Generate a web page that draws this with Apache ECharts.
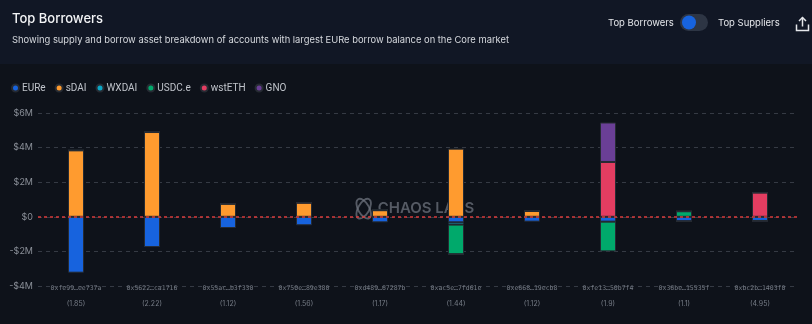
<!DOCTYPE html>
<html>
<head>
<meta charset="utf-8">
<script src="https://cdn.jsdelivr.net/npm/echarts@6/dist/echarts.min.js"></script>
<style>
html,body{margin:0;padding:0;background:#0e121a;}
#chart{width:812px;height:324px;}
</style>
</head>
<body>
<div id="chart"></div>
<script>
const categories = ['0xfe99…ee737a','0x5622…ca1716','0x55ac…b3f330','0x750e…89e380','0xd489…67287b','0xac5e…7fd61e','0xe668…19ecb8','0xfe13…50b7f4','0x36be…15535f','0xbc2b…1403f0'];
const healthFactors = ['1.85','2.22','1.12','1.56','1.17','1.44','1.12','1.9','1.1','4.95'];
const yTicks = ['-$4M','-$2M','$0','$2M','$4M','$6M'];
const EURe   = [-3.23,-1.75,-0.65,-0.49,-0.32,-0.32,-0.28,-0.28,-0.26,-0.24];
const sDAI   = [3.84,4.90,0.76,0.82,0.38,3.94,0.34,0,0,0];
const WXDAI  = [0,0,0,0,0,-0.13,0,0,0,0];
const USDCe  = [0,0,0,0,0,-1.72,0,-1.72,0.32,0];
const wstETH = [0,0,0,0,0,0,0,3.17,0,1.40];
const GNO    = [0,0,0,0,0,0,0,2.28,0,0];

const seriesDefs = [
  ['EURe', EURe, '#1763de'],
  ['sDAI', sDAI, '#ff9b2f'],
  ['WXDAI', WXDAI, '#0ba7c6'],
  ['USDC.e', USDCe, '#00a96b'],
  ['wstETH', wstETH, '#e33d61'],
  ['GNO', GNO, '#6a3f96']
];

const chart = echarts.init(document.getElementById('chart'), null, {renderer:'canvas'});
const series = seriesDefs.map((d, i) => ({
  name: d[0], type: 'bar', stack: 'total', barWidth: 16,
  data: d[1].map(v => v * 1e6),
  itemStyle: {color: d[2], borderColor: '#262b33', borderWidth: 1},
  z: 3,
  markLine: i === 0 ? {
    silent: true, symbol: 'none', label: {show: false},
    lineStyle: {color: '#d83b3b', type: [3,3], width: 1.5},
    data: [{yAxis: 0}]
  } : undefined
}));

const wm = 'rgba(110,115,125,0.75)';
chart.setOption({
  backgroundColor: '#0e121a',
  animation: false,
  textStyle: {fontFamily: 'Inter, Roboto, sans-serif'},
  graphic: [
    {type:'rect', shape:{x:0,y:0,width:812,height:64}, style:{fill:'#111725'}, z:-10, silent:true},
    {type:'text', left:12, top:13, style:{text:'Top Borrowers', fill:'#f3f4f6', font:'500 13px Inter, sans-serif'}},
    {type:'text', left:12, top:36, style:{text:'Showing supply and borrow asset breakdown of accounts with largest EURe borrow balance on the Core market', fill:'#d6d9de', font:'9.4px Inter, sans-serif'}},
    {type:'text', left:608, top:18, style:{text:'Top Borrowers', fill:'#e5e7eb', font:'9.5px Inter, sans-serif'}},
    {type:'rect', shape:{x:680,y:14,width:28,height:17,r:8.5}, style:{fill:'#2d3544'}},
    {type:'circle', shape:{cx:689,cy:22.5,r:7}, style:{fill:'#1763de'}},
    {type:'text', left:718, top:18, style:{text:'Top Suppliers', fill:'#e5e7eb', font:'9.5px Inter, sans-serif'}},
    {type:'group', left:794, top:15, children:[
      {type:'polyline', shape:{points:[[1,8],[1,14],[13,14],[13,8]]}, style:{stroke:'#e5e7eb', lineWidth:1.5, fill:null}},
      {type:'line', shape:{x1:7,y1:1,x2:7,y2:10}, style:{stroke:'#e5e7eb', lineWidth:1.5}},
      {type:'polyline', shape:{points:[[3.5,4.5],[7,1],[10.5,4.5]]}, style:{stroke:'#e5e7eb', lineWidth:1.5, fill:null}}
    ]},
    {type:'group', left:350, top:193, z:0, silent:true, children:[
      {type:'ellipse', shape:{cx:10,cy:12,rx:11,ry:5.5}, rotation:Math.PI/3, originX:10, originY:12, style:{stroke:wm, lineWidth:1.8, fill:null}},
      {type:'ellipse', shape:{cx:10,cy:12,rx:11,ry:5.5}, rotation:-Math.PI/3, originX:10, originY:12, style:{stroke:wm, lineWidth:1.8, fill:null}},
      {type:'text', x:24, y:4, style:{text:'CHAOS LABS', fill:wm, font:'600 15px Inter, sans-serif'}}
    ]}
  ],
  legend: {
    left: 6, top: 78, icon: 'circle', itemWidth: 7, itemHeight: 7, itemGap: 9,
    textStyle: {color: '#bfc3ca', fontSize: 10, fontFamily: 'Roboto, sans-serif', padding:[0,0,0,-2]},
    data: seriesDefs.map(d => d[0])
  },
  grid: {left: 38, right: 14, top: 113, bottom: 38},
  xAxis: {
    type: 'category', data: categories,
    axisLine: {show: false}, axisTick: {show: false},
    axisLabel: {
      interval: 0, margin: 0,
      formatter: (v, i) => '{a|' + v + '}\n{b|(' + healthFactors[i] + ')}',
      rich: {
        a: {fontFamily: '"DejaVu Sans Mono", monospace', fontSize: 6.5, color: '#767c86', lineHeight: 12, padding:[0,0,7,0]},
        b: {fontFamily: 'Inter, sans-serif', fontSize: 7, color: '#767c86', lineHeight: 12}
      }
    }
  },
  yAxis: {
    type: 'value', min: -4e6, max: 6e6, interval: 2e6,
    axisLine: {show: false}, axisTick: {show: false},
    axisLabel: {
      color: '#8b9099', fontSize: 9, margin: 5,
      formatter: v => yTicks[Math.round((v + 4e6) / 2e6)]
    },
    splitLine: {lineStyle: {color: '#353a44', type: [4,4]}}
  },
  series: series
});
</script>
</body>
</html>
